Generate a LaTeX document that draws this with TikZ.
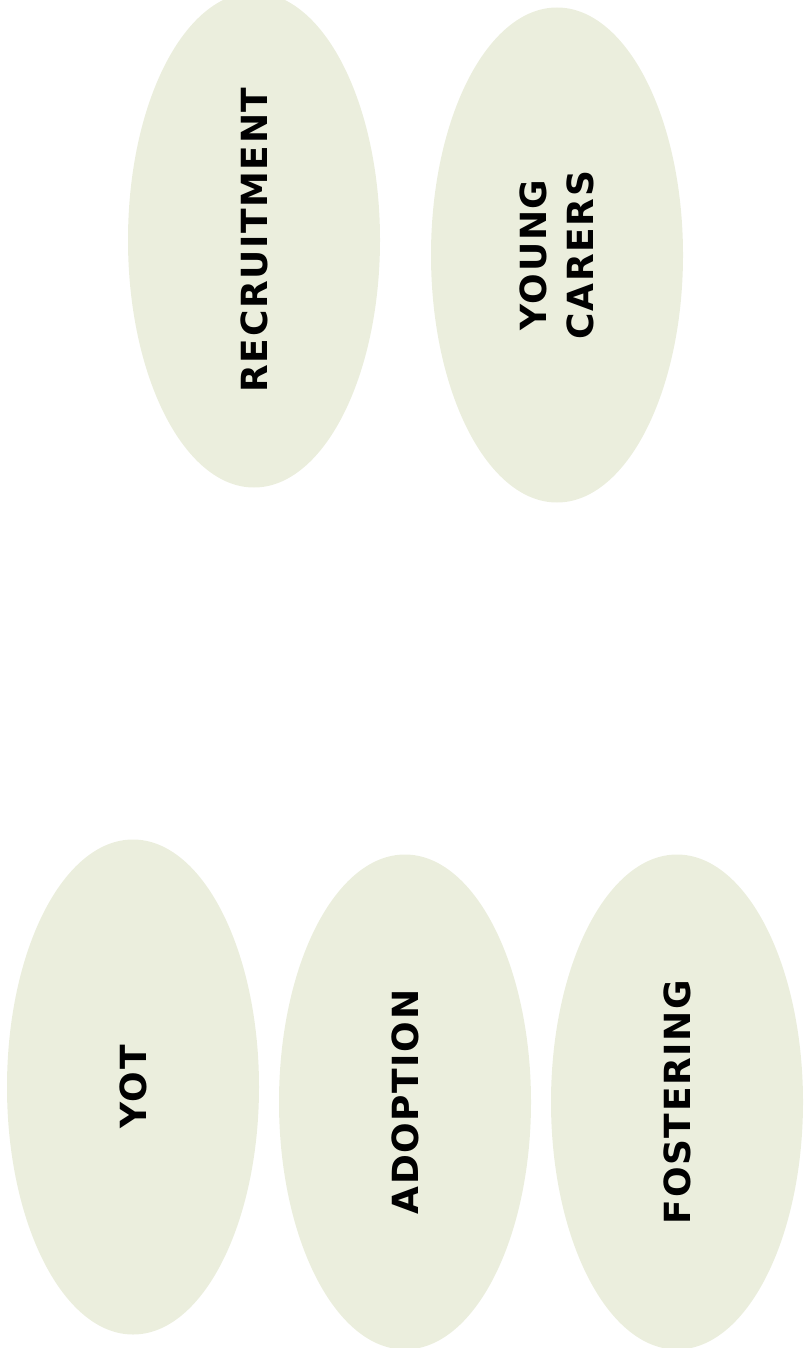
\documentclass[tikz,border=0pt]{standalone}
\usepackage{fontspec}
\setmainfont{DejaVu Sans}
\newfontfamily\blobfont[LetterSpace=4.5]{DejaVu Sans}
\usetikzlibrary{shapes.geometric}
\definecolor{blobfill}{HTML}{EBEEDD}
\begin{document}
\begin{tikzpicture}[x=1pt,y=-1pt,
  blob/.style={ellipse, fill=blobfill, draw=none, rotate=90,
    minimum width=495pt, minimum height=252pt, inner sep=0pt,
    font=\blobfont\fontsize{36}{47}\selectfont\bfseries, align=center, text=black}]
\useasboundingbox (0,0) rectangle (803,1348);
\node[blob] (rec) at (254,240) {RECRUITMENT};
\node[blob] (yc) at (557,255) {YOUNG\\CARERS};
\node[blob] (yot) at (133,1087) {YOT};
\node[blob] (adp) at (405,1102) {ADOPTION};
\node[blob] (fos) at (677,1102) {FOSTERING};
\end{tikzpicture}
\end{document}
